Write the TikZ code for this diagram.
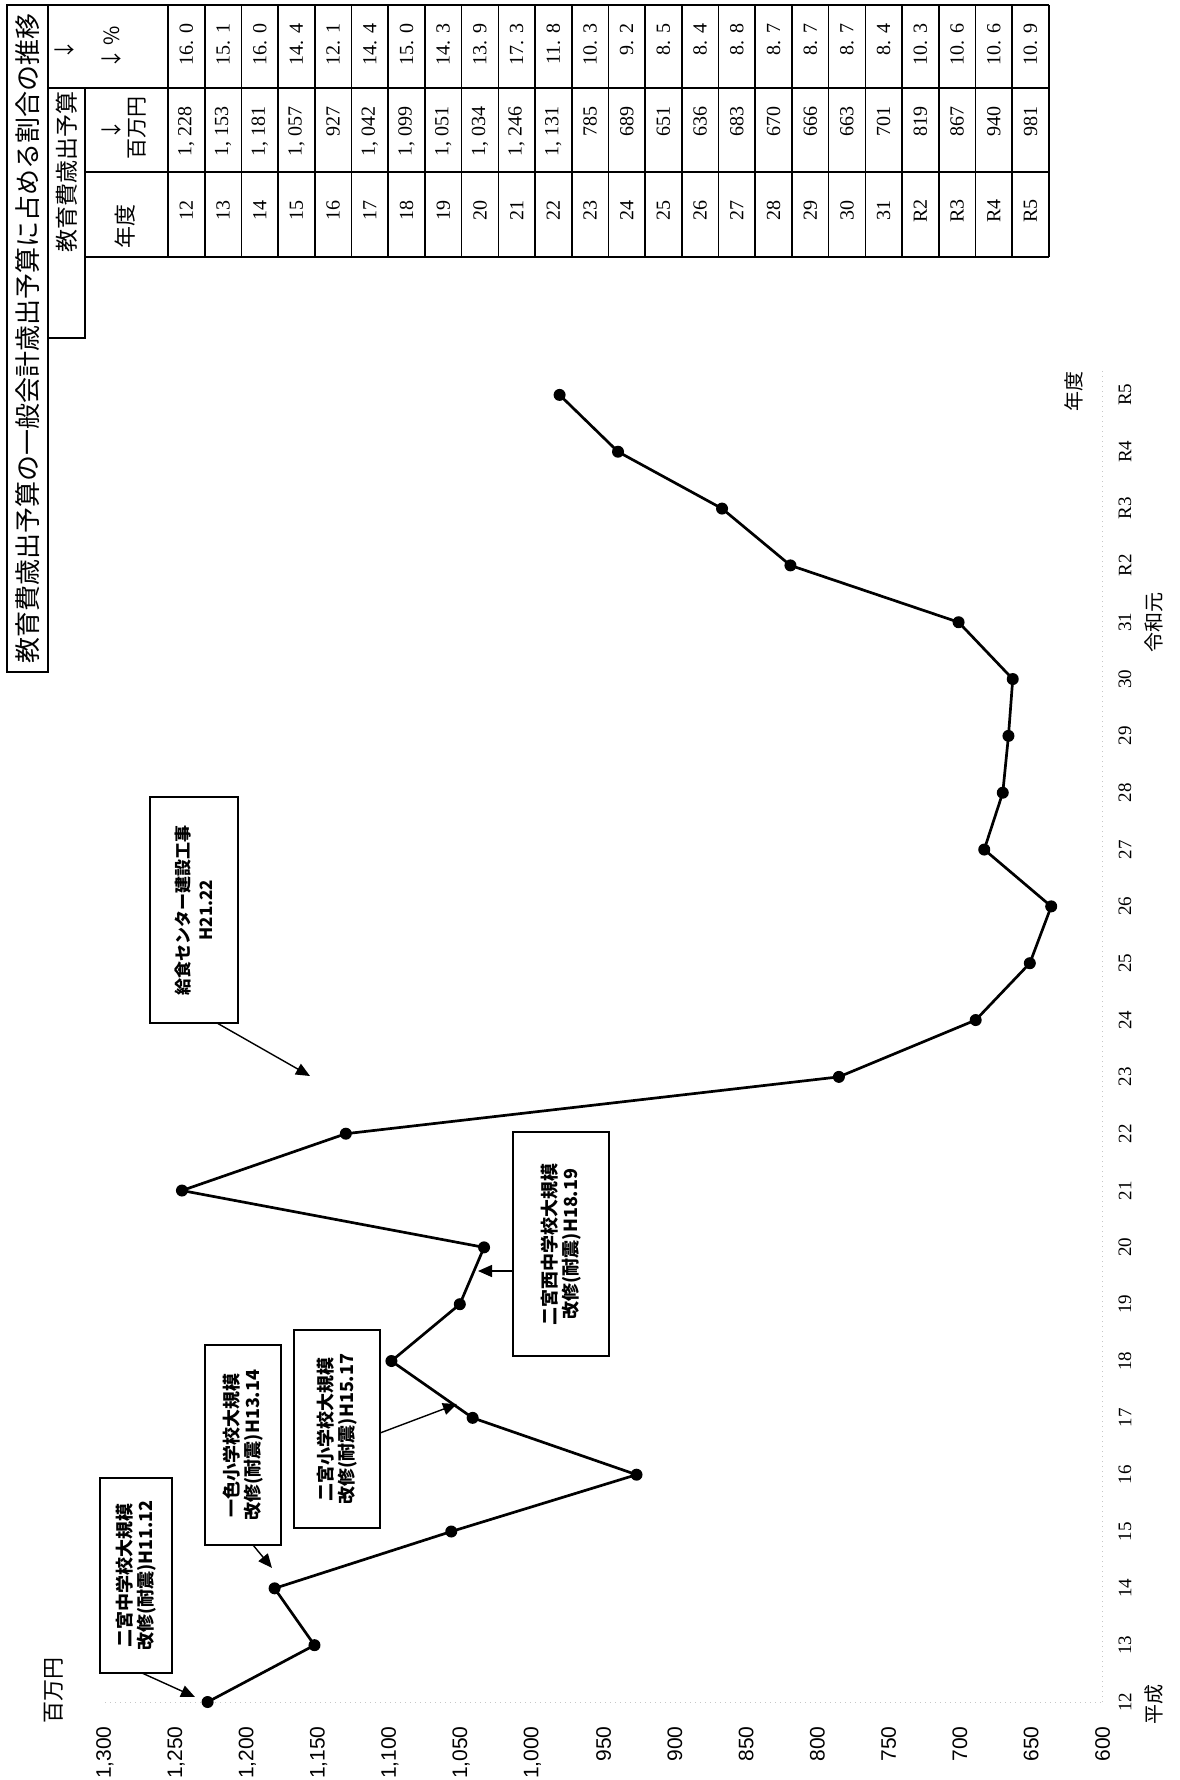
\documentclass[tikz,border=0pt]{standalone}
\usepackage{fontspec}
\setmainfont{Liberation Serif}
\newfontfamily\cjk{Noto Sans CJK JP}
\newfontfamily\lsans{Liberation Sans}
\usetikzlibrary{arrows.meta}

\begin{document}
\begin{tikzpicture}[x=0.5pt,y=-0.5pt,
  dot/.style={circle,fill=black,inner sep=0pt,minimum size=6pt},
  series/.style={line width=1.35pt,line join=round},
  callout/.style={draw,line width=0.9pt,rotate=90,inner sep=0pt,align=center,
    font=\cjk\bfseries\fontsize{9}{10.5}\selectfont},
  pointer/.style={line width=0.7pt,-{Triangle[length=7pt,width=6pt]}},
  ylab/.style={rotate=90,anchor=east,inner sep=0pt,font=\lsans\fontsize{10.5}{12}\selectfont},
  xlab/.style={rotate=90,inner sep=0pt,font=\fontsize{9.5}{11}\selectfont},
  jlab/.style={rotate=90,inner sep=0pt,font=\cjk\fontsize{10}{12}\selectfont},
  tnum/.style={rotate=90,anchor=east,inner sep=0pt,font=\fontsize{10}{12}\selectfont},
  tyr/.style={rotate=90,inner sep=0pt,font=\fontsize{10}{12}\selectfont},
  thead/.style={rotate=90,inner sep=0pt,font=\cjk\fontsize{10.5}{12}\selectfont},
  tline/.style={line width=0.8pt},
  tthick/.style={line width=1.2pt},
  gridax/.style={gray!45,dotted,line width=0.5pt}
]
\useasboundingbox (0,0) rectangle (1179,1780);

% ---------- title and table ----------
\draw[tthick] (7,5) rectangle (48,672);
\node[rotate=90,inner sep=0pt,font=\cjk\fontsize{13}{14}\selectfont] (title) at (27.5,338)
  {教育費歳出予算の一般会計歳出予算に占める割合の推移};

\draw[tthick] (48,5) -- (1049,5);
\draw[tthick] (48,88) -- (1049,88);
\draw[tthick] (85,172) -- (1049,172);
\draw[tthick] (85,257) -- (1049,257);
\draw[tthick] (1049,5) -- (1049,257);
\draw[tthick] (168,5) -- (168,257);
\draw[tthick] (85,88) -- (85,338) -- (48,338);
\foreach \k in {1,...,23} { \draw[tline] ({168+36.7*\k},5) -- ({168+36.7*\k},257); }

\node[rotate=90,inner sep=0pt,font=\cjk\fontsize{11.5}{12}\selectfont] (hdr) at (67,172) {教育費歳出予算};
\node[thead,font=\cjk\fontsize{11}{12}\selectfont] (hyr) at (125,227) {年度};
\node[thead] (harr1) at (112,130) {↓};
\node[thead] (hyen) at (137,128) {百万円};
\node[thead] (harr2) at (65,50) {↓};
\node[thead] (hpct) at (112,48) {↓\,\%};

\foreach \yr/\amt/\pc [count=\i from 0] in {
  12/{1, 228}/{16. 0}, 13/{1, 153}/{15. 1}, 14/{1, 181}/{16. 0}, 15/{1, 057}/{14. 4},
  16/{927}/{12. 1}, 17/{1, 042}/{14. 4}, 18/{1, 099}/{15. 0}, 19/{1, 051}/{14. 3},
  20/{1, 034}/{13. 9}, 21/{1, 246}/{17. 3}, 22/{1, 131}/{11. 8}, 23/{785}/{10. 3},
  24/{689}/{9. 2}, 25/{651}/{8. 5}, 26/{636}/{8. 4}, 27/{683}/{8. 8},
  28/{670}/{8. 7}, 29/{666}/{8. 7}, 30/{663}/{8. 7}, 31/{701}/{8. 4},
  R2/{819}/{10. 3}, R3/{867}/{10. 6}, R4/{940}/{10. 6}, R5/{981}/{10. 9}} {
  \node[tyr] (ty\i) at ({186.35+36.7*\i},211) {\yr};
  \node[tnum] (ta\i) at ({186.35+36.7*\i},106) {\amt};
  \node[tnum] (tp\i) at ({186.35+36.7*\i},23) {\pc};
}

% ---------- axes ----------
\draw[gridax] (105,1702) -- (1102,1702);
\draw[gridax] (1102,1702) -- (1102,370);

\foreach \lab [count=\k from 0] in {{1,300},{1,250},{1,200},{1,150},{1,100},{1,050},{1,000},
  950,900,850,800,750,700,650,600} {
  \node[ylab] (yl\k) at ({105+71.25*\k},1726) {\lab};
}
\node[jlab,font=\cjk\fontsize{11}{12}\selectfont] (yunit) at (54,1690) {百万円};

\foreach \lab [count=\i from 0] in {12,13,14,15,16,17,18,19,20,21,22,23,24,25,26,27,28,29,30,31,R2,R3,R4,R5} {
  \node[xlab] (xl\i) at (1125,{1702-56.83*\i}) {\lab};
}
\node[jlab] (heisei) at (1154,1704) {平成};
\node[jlab] (reiwa) at (1154,622) {令和元};
\node[jlab] (nendo) at (1074,392) {年度};

% ---------- data ----------
\foreach \v [count=\i from 0] in {1228,1153,1181,1057,927,1042,1099,1051,1034,1246,1131,785,
  689,651,636,683,670,666,663,701,819,867,940,981} {
  \coordinate (c\i) at ({105+(1300-\v)*1.425},{1702-56.83*\i});
}
\draw[series] (c0) \foreach \i in {1,...,23} { -- (c\i) };
\foreach \i in {0,...,23} { \node[dot] (d\i) at (c\i) {}; }

% ---------- callouts ----------
\node[callout,minimum width=97.5pt,minimum height=36pt] (b1) at (136,1575.5)
  {二宮中学校大規模\\改修(耐震)H11.12};
\node[callout,minimum width=100pt,minimum height=38pt] (b2) at (243,1445)
  {一色小学校大規模\\改修(耐震)H13.14};
\node[callout,minimum width=99pt,minimum height=43pt] (b3) at (337,1429)
  {二宮小学校大規模\\改修(耐震)H15.17};
\node[callout,minimum width=112pt,minimum height=48pt] (b4) at (561,1244)
  {二宮西中学校大規模\\改修(耐震)H18.19};
\node[callout,minimum width=113pt,minimum height=44pt,font=\cjk\bfseries\fontsize{8.5}{11.5}\selectfont] (b5) at (194,910)
  {給食センター建設工事\\H21.22};

\coordinate (a1s) at (142,1673); \coordinate (a1t) at (195,1697);
\coordinate (a2s) at (253,1545); \coordinate (a2t) at (272,1568);
\coordinate (a3s) at (380,1433); \coordinate (a3t) at (457,1404);
\coordinate (a4s) at (513,1271); \coordinate (a4t) at (478,1271);
\coordinate (a5s) at (217,1023); \coordinate (a5t) at (310,1076);
\draw[pointer] (a1s) -- (a1t);
\draw[pointer] (a2s) -- (a2t);
\draw[pointer] (a3s) -- (a3t);
\draw[pointer] (a4s) -- (a4t);
\draw[pointer] (a5s) -- (a5t);
\end{tikzpicture}
\end{document}
